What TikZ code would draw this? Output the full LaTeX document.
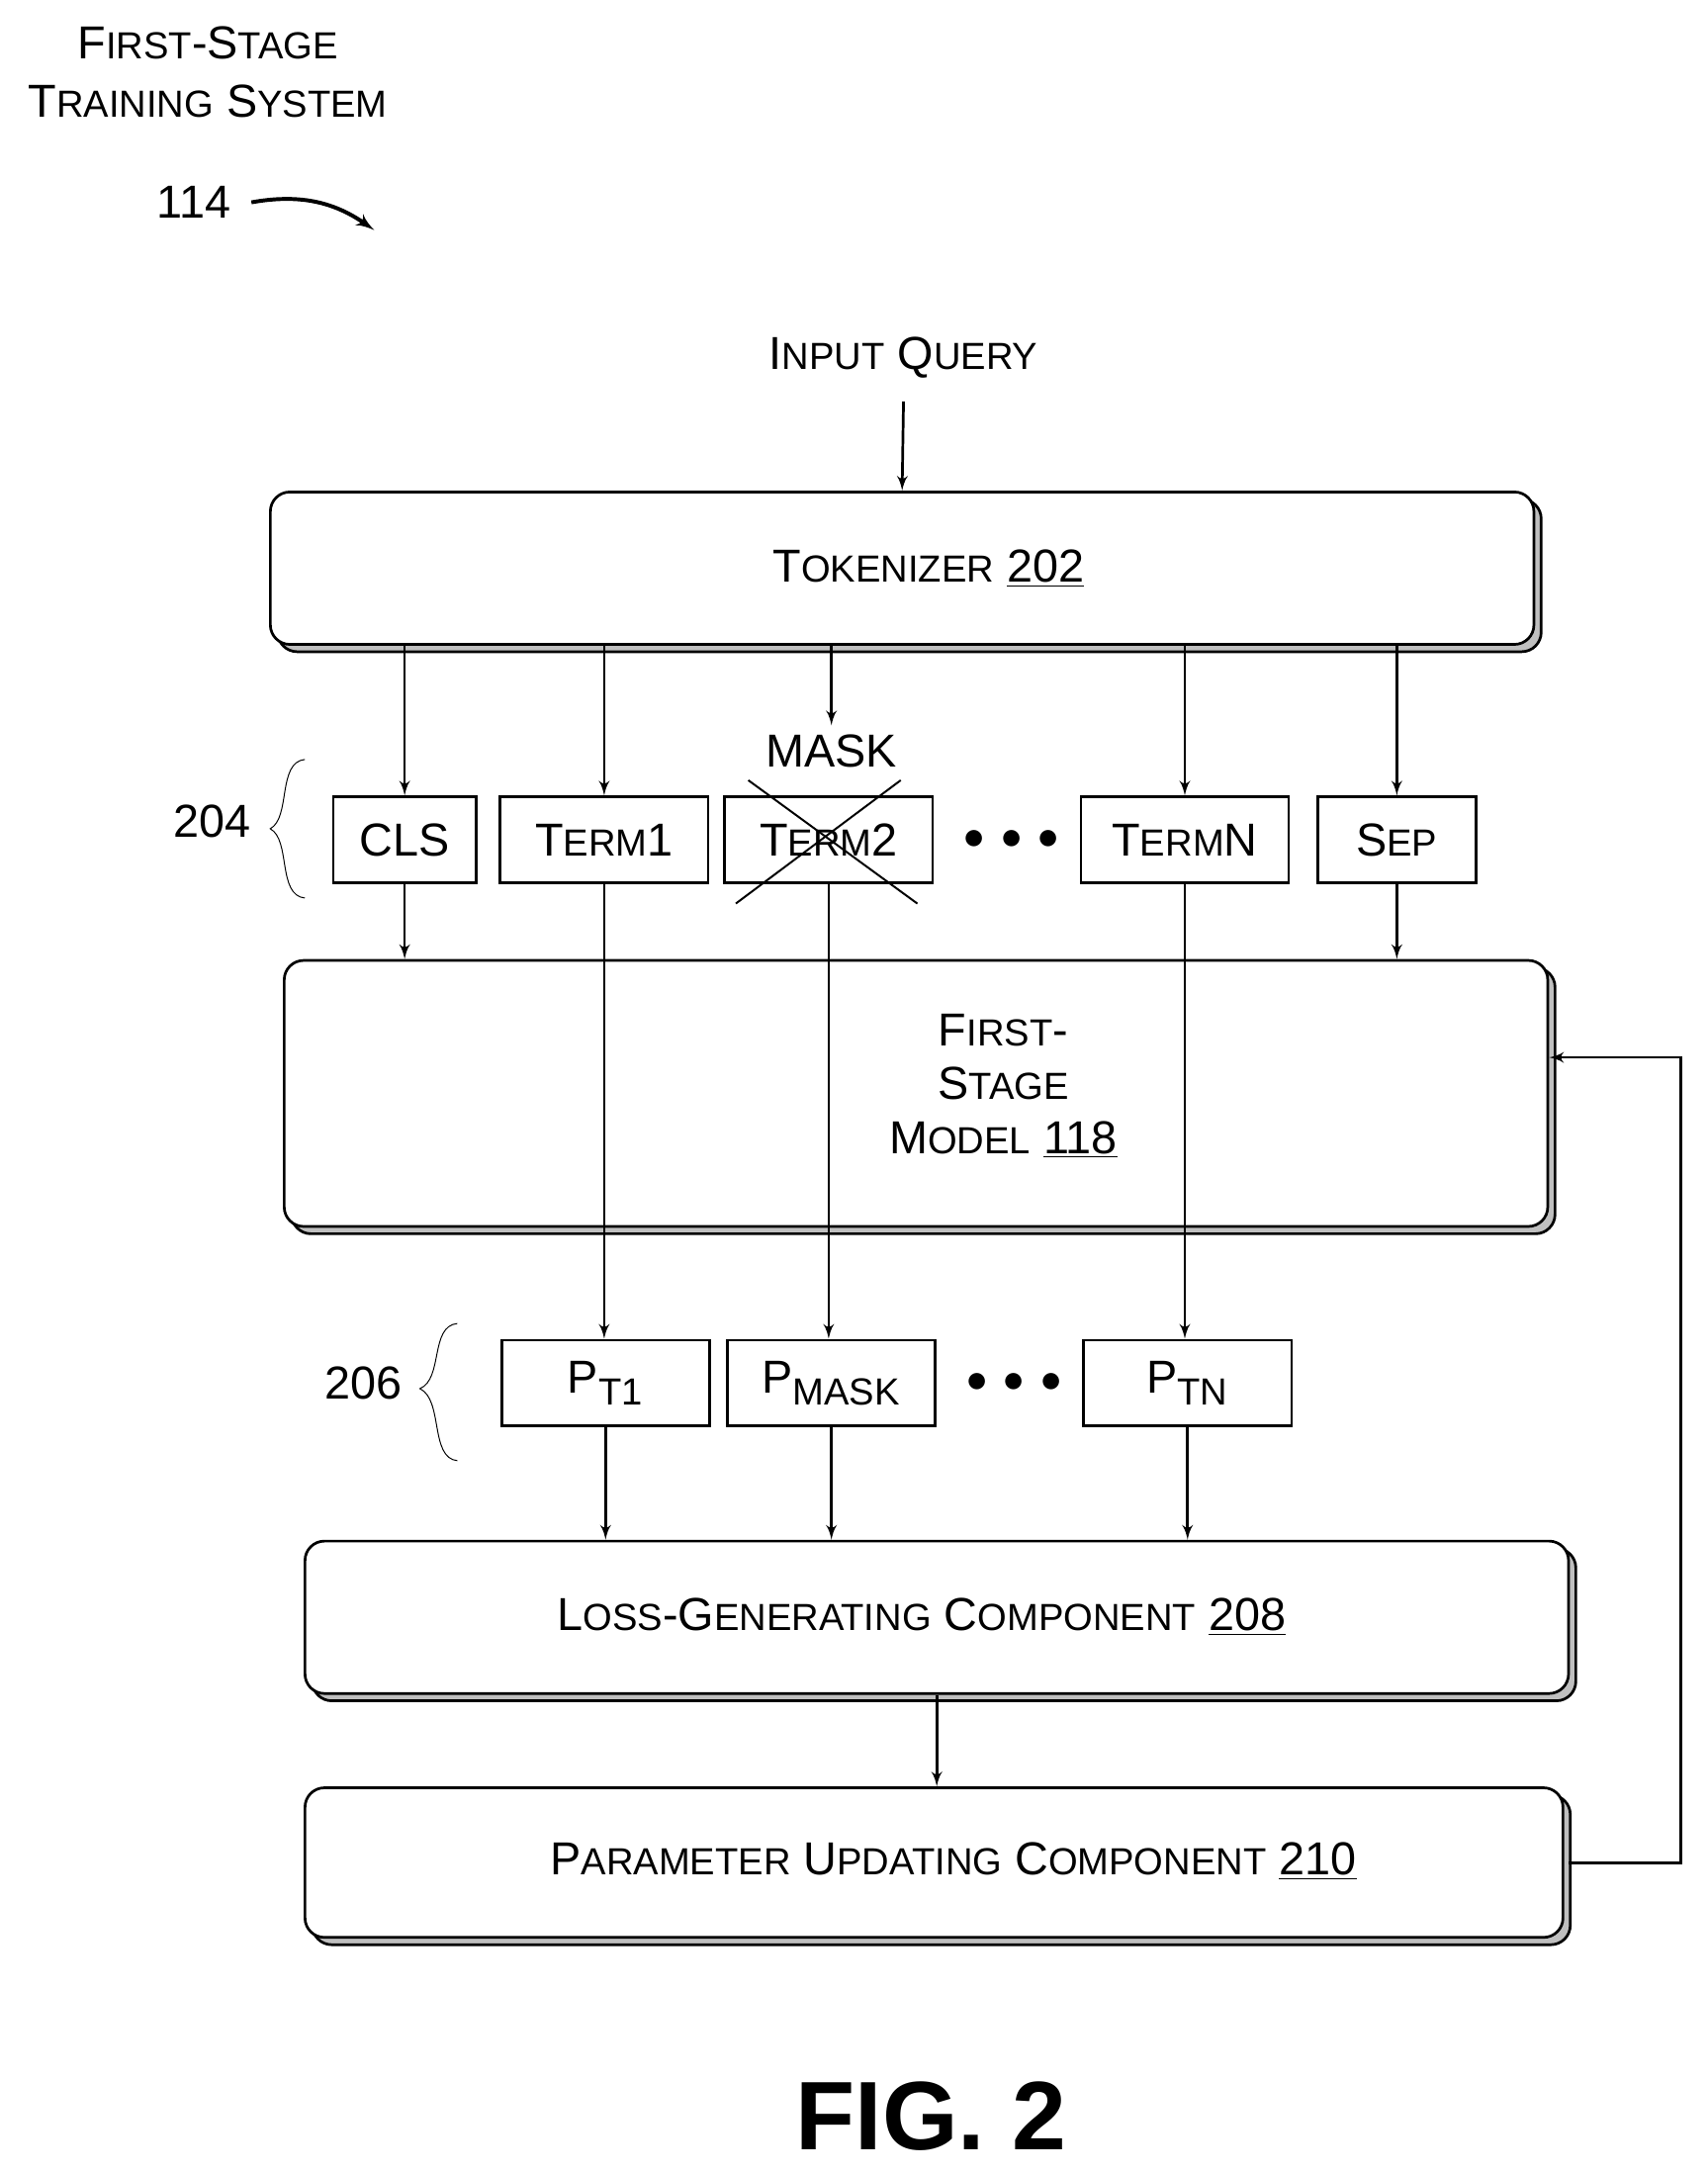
\documentclass[tikz,border=0pt]{standalone}
\usepackage{fontspec}
\setmainfont{Liberation Sans}
\usetikzlibrary{arrows,shapes,shadows}
\newcommand{\smc}[1]{{\fontsize{15.5}{18}\selectfont #1}}
\tikzstyle{blok} = [draw, rounded corners=8pt, fill=white, copy shadow={shadow xshift=3pt, shadow yshift=-3pt, fill=gray!50, draw=black}]
\tikzstyle{tok} = [draw, fill=white, minimum height=1.24cm]
\begin{document}
\begin{tikzpicture}[x=0.02cm,y=-0.02cm,>=latex',line width=1.1pt,font=\fontsize{19}{22}\selectfont]
    \useasboundingbox (0,0) rectangle (1232,1568);

    %title
    \node[align=center] (title) at (150,52) {F\smc{IRST}-S\smc{TAGE}\\[2pt]T\smc{RAINING} S\smc{YSTEM}};
    \node (ref) at (140,146) {114};
    \coordinate (refend) at (270,166);
    \draw[->, line width=1.6pt] (ref.east) ++(8,0) .. controls (215,140) and (240,145) .. (refend);

    %tokenizer
    \node (query) at (652,258) {I\smc{NPUT} Q\smc{UERY}};
    \node[blok, minimum width=18.24cm, minimum height=2.2cm] at (651,410) (tkz) {};
    \node at (670,410) {T\smc{OKENIZER} \underline{202}};
    \draw[->] (query.south) ++(0,10) -- (tkz.north);

    %tokens
    \node[tok, minimum width=2.06cm] at (292,606) (cls) {CLS};
    \node[tok, minimum width=3cm] at (436,606) (t1) {T\smc{ERM}1};
    \node[tok, minimum width=3cm] at (598,606) (t2) {T\smc{ERM}2};
    \node[tok, minimum width=3cm] at (855,606) (tn) {T\smc{ERM}N};
    \node[tok, minimum width=2.28cm] at (1008,606) (sep) {S\smc{EP}};
    \node at (730,606) (dots1) {\textbf{$\bullet\,\bullet\,\bullet$}};
    \node at (600,542) (mask) {MASK};
    \draw[line width=0.8pt] (531,652) -- (650,563);
    \draw[line width=0.8pt] (540,563) -- (662,652);
    \foreach \t in {cls,t1,tn,sep}
      \draw[->] (tkz.south -| \t) -- (\t.north);
    \draw[->] (tkz.south -| mask) -- (mask.north);
    \node at (153,593) (l204) {204};
    \draw[thin] (220,548) .. controls (200,550) and (210,590) .. (195,598) .. controls (210,606) and (200,646) .. (220,648);

    %model
    \node[blok, minimum width=18.24cm, minimum height=3.84cm] at (661,789) (model) {};
    \node[align=center] at (724,784) {F\smc{IRST}-\\S\smc{TAGE}\\M\smc{ODEL} \underline{118}};
    \draw[->] (cls.south) -- (model.north -| cls);
    \draw[->] (sep.south) -- (model.north -| sep);

    %outputs
    \node[tok, minimum width=3cm] at (437,998) (p1) {P\textsubscript{\smc{T1}}};
    \node[tok, minimum width=3cm] at (600,998) (pm) {P\textsubscript{\smc{MASK}}};
    \node[tok, minimum width=3cm] at (857,998) (pn) {P\textsubscript{\smc{TN}}};
    \node at (732,998) (dots2) {\textbf{$\bullet\,\bullet\,\bullet$}};
    \draw[->] (t1.south) -- (p1.north -| t1);
    \draw[->] (t2.south) -- (pm.north -| t2);
    \draw[->] (tn.south) -- (pn.north -| tn);
    \node at (262,998) (l206) {206};
    \draw[thin] (330,955) .. controls (310,957) and (320,995) .. (303,1002) .. controls (320,1010) and (310,1052) .. (330,1054);

    %loss and update
    \node[blok, minimum width=18.24cm, minimum height=2.2cm] at (676,1167) (loss) {};
    \node at (665,1167) {L\smc{OSS}-G\smc{ENERATING} C\smc{OMPONENT} \underline{208}};
    \foreach \p in {p1,pm,pn}
      \draw[->] (\p.south) -- (loss.north -| \p);
    \node[blok, minimum width=18.16cm, minimum height=2.16cm] at (674,1344) (upd) {};
    \node at (688,1343) {P\smc{ARAMETER} U\smc{PDATING} C\smc{OMPONENT} \underline{210}};
    \draw[->] (loss.south -| 676,0) -- (upd.north -| 676,0);
    \coordinate (fb) at (1213,763);
    \draw[->] (upd.east) ++(3,0) -| (fb) -- (model.east |- fb);

    \node[font=\fontsize{40}{44}\selectfont\bfseries] at (672,1527) (fig) {FIG. 2};
  \end{tikzpicture}
\end{document}
